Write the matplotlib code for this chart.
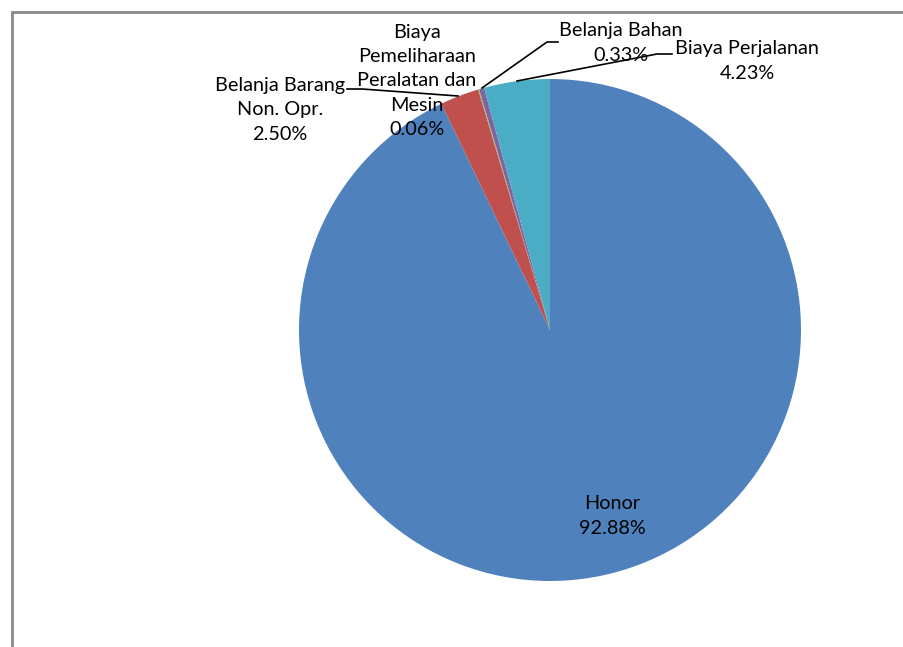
import matplotlib
matplotlib.use("Agg")
import matplotlib.pyplot as plt
from matplotlib.lines import Line2D

categories = ["Honor", "Belanja Barang\nNon. Opr.", "Biaya\nPemeliharaan\nPeralatan dan\nMesin",
              "Belanja Bahan", "Biaya Perjalanan"]
values = [92.88, 2.50, 0.06, 0.33, 4.23]
colors = ["#4F81BD", "#C0504D", "#9BBB59", "#8064A2", "#4BACC6"]

W, H = 904, 647
fig = plt.figure(figsize=(W / 100, H / 100), dpi=100)
ax = fig.add_axes([0, 0, 1, 1])

def Y(y):
    return H - y

ax.pie(values, colors=colors, startangle=90, counterclock=False,
       center=(550, Y(330)), radius=251, frame=True,
       wedgeprops=dict(linewidth=0))
ax.set_xlim(0, W)
ax.set_ylim(0, H)
ax.set_aspect("equal")
ax.axis("off")

# chart border (top and left)
ax.add_line(Line2D([12, 12, W + 5], [Y(H + 5), Y(12), Y(12)], color="#898989", lw=2,
                   solid_joinstyle="miter"))

font = dict(family=["Lato", "DejaVu Sans"], fontsize=14.3, color="#000000",
            ha="center", va="center", linespacing=1.52)

pct = [f"{v:.2f}%" for v in values]
label_pos = [(612, 516), (280, 110), (417, 81), (621, 43), (747, 61)]
for cat, p, (x, y) in zip(categories, pct, label_pos):
    ax.text(x, Y(y), f"{cat}\n{p}", **font)

# leader lines
lk = dict(color="black", lw=1.2)
ax.add_line(Line2D([347, 362, 458], [Y(89), Y(89), Y(96)], **lk))
ax.add_line(Line2D([558, 547, 482], [Y(42), Y(42), Y(88)], **lk))
ax.add_line(Line2D([672, 657, 517], [Y(54), Y(54), Y(81)], **lk))

fig.savefig("out.png", dpi=100, facecolor="white")
